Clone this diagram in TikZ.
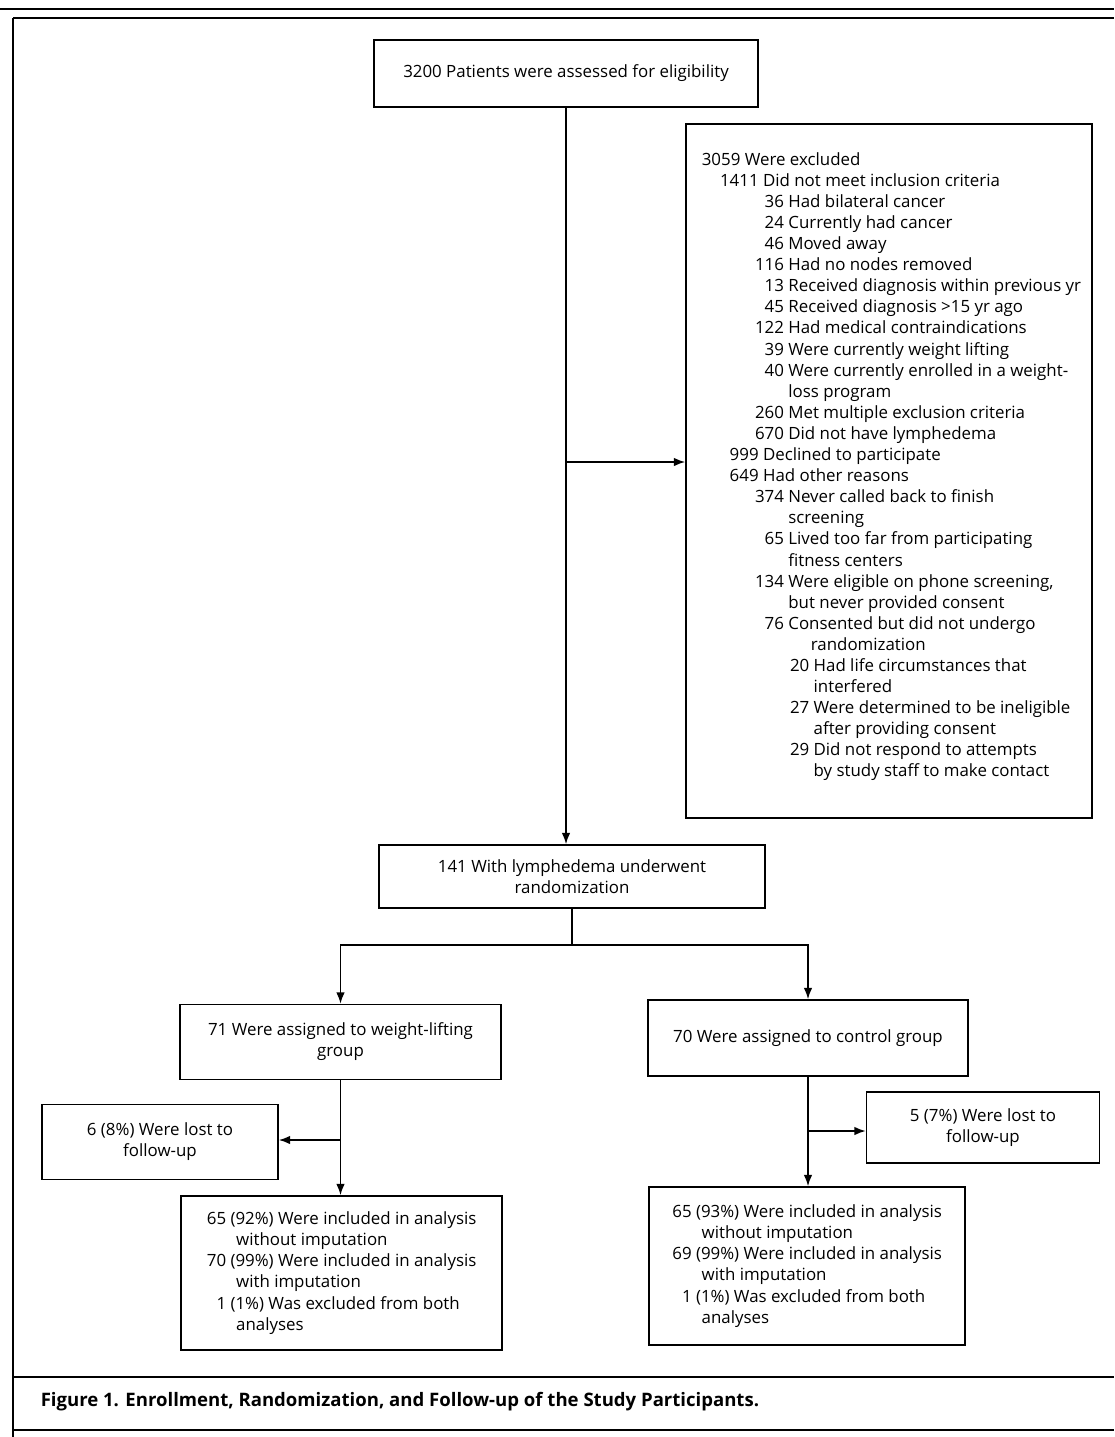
\documentclass[tikz,border=0pt]{standalone}
\usepackage{fontspec}
\setmainfont{Open Sans}
\usetikzlibrary{arrows.meta}

\newcommand{\exl}[3]{\makebox[#1][r]{#2\ }#3}

\begin{document}
\begin{tikzpicture}[x=0.025cm, y=-0.025cm, line width=1.1pt,
    every node/.style={font=\fontsize{12}{15}\selectfont},
    box/.style={draw, align=center, inner sep=0pt},
    sz/.style 2 args={minimum width=#1*0.025cm, minimum height=#2*0.025cm},
    arr/.style={-{Latex[length=8pt,width=6pt]}}]

\useasboundingbox (0,0) rectangle (1114,1437);

% frame and caption rules
\draw (0,9) -- (1114,9);
\draw (13,18) -- (1114,18);
\draw (13,18) -- (13,1437);
\draw (13,1377) -- (1114,1377);
\draw (13,1430) -- (1114,1430);

\node[box, sz={384}{67}] (assess) at (566,73.5) {3200 Patients were assessed for eligibility};

\node[box, sz={406}{694}, align=left] (excl) at (889,471) {%
\exl{34pt}{3059}{Were excluded}\\
\exl{47pt}{1411}{Did not meet inclusion criteria}\\
\exl{65pt}{36}{Had bilateral cancer}\\
\exl{65pt}{24}{Currently had cancer}\\
\exl{65pt}{46}{Moved away}\\
\exl{65pt}{116}{Had no nodes removed}\\
\exl{65pt}{13}{Received diagnosis within previous yr}\\
\exl{65pt}{45}{Received diagnosis >15 yr ago}\\
\exl{65pt}{122}{Had medical contraindications}\\
\exl{65pt}{39}{Were currently weight lifting}\\
\exl{65pt}{40}{Were currently enrolled in a weight-}\\
\hspace*{65pt}loss program\\
\exl{65pt}{260}{Met multiple exclusion criteria}\\
\exl{65pt}{670}{Did not have lymphedema}\\
\exl{47pt}{999}{Declined to participate}\\
\exl{47pt}{649}{Had other reasons}\\
\exl{65pt}{374}{Never called back to finish}\\
\hspace*{65pt}screening\\
\exl{65pt}{65}{Lived too far from participating}\\
\hspace*{65pt}fitness centers\\
\exl{65pt}{134}{Were eligible on phone screening,}\\
\hspace*{65pt}but never provided consent\\
\exl{65pt}{76}{Consented but did not undergo}\\
\hspace*{81pt}randomization\\
\exl{83pt}{20}{Had life circumstances that}\\
\hspace*{83pt}interfered\\
\exl{83pt}{27}{Were determined to be ineligible}\\
\hspace*{83pt}after providing consent\\
\exl{83pt}{29}{Did not respond to attempts}\\
\hspace*{83pt}by study staff to make contact\rule[-9pt]{0pt}{0pt}};

\node[box, sz={386}{63}] (rand) at (572,876.5) {141 With lymphedema underwent\\randomization};

\node[box, sz={321}{75}] (wl) at (340.5,1042) {71 Were assigned to weight-lifting\\group};
\node[box, sz={320}{76}] (ctrl) at (808,1038) {70 Were assigned to control group};

\node[box, sz={236}{75}] (lostL) at (160,1142) {6 (8\%) Were lost to\\follow-up};
\node[box, sz={233}{71}] (lostR) at (983,1127.5) {5 (7\%) Were lost to\\follow-up};

\node[box, sz={321}{154}, align=left] (inclL) at (341.5,1273) {%
\exl{17pt}{65}{(92\%) Were included in analysis}\\
\hspace*{21pt}without imputation\\
\exl{17pt}{70}{(99\%) Were included in analysis}\\
\hspace*{21pt}with imputation\\
\exl{17pt}{1}{(1\%) Was excluded from both}\\
\hspace*{21pt}analyses};

\node[box, sz={316}{158}, align=left] (inclR) at (807,1266) {%
\exl{17pt}{65}{(93\%) Were included in analysis}\\
\hspace*{21pt}without imputation\\
\exl{17pt}{69}{(99\%) Were included in analysis}\\
\hspace*{21pt}with imputation\\
\exl{17pt}{1}{(1\%) Was excluded from both}\\
\hspace*{21pt}analyses};

\node[anchor=west, inner sep=0pt, font=\bfseries\fontsize{13.2}{15}\selectfont] (cap) at (40,1402)
  {Figure 1. Enrollment, Randomization, and Follow-up of the Study Participants.};

% connectors
\draw[arr] (assess.south) -- (assess.south |- rand.north);
\coordinate (jE) at (566,462);
\draw[arr] (jE) -- (jE -| excl.west);

\coordinate (split) at (rand.south |- 0,945);
\draw (rand.south) -- (split);
\foreach \g in {wl,ctrl}
    \draw[arr] (split) -| (\g.north);

\draw[arr] (wl.south) -- (wl.south |- inclL.north);
\coordinate (jL) at (wl.south |- 0,1140);
\draw[arr] (jL) -- (jL -| lostL.east);

\draw[arr] (ctrl.south) -- (ctrl.south |- inclR.north);
\coordinate (jR) at (ctrl.south |- 0,1131);
\draw[arr] (jR) -- (jR -| lostR.west);

\end{tikzpicture}
\end{document}
